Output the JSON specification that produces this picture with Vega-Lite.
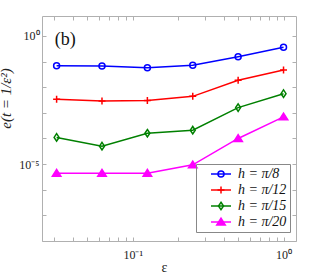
{
  "$schema": "https://vega.github.io/schema/vega-lite/v6.json",
  "width": 254,
  "height": 225,
  "autosize": "none",
  "padding": {"left": 42, "top": 16, "right": 31, "bottom": 32},
  "background": "white",
  "config": {
    "view": {"stroke": null},
    "axis": {
      "grid": false,
      "domainColor": "#b0b0b0",
      "tickColor": "#b0b0b0",
      "tickSize": -4,
      "labelFont": "Liberation Serif",
      "labelFontSize": 12,
      "labelColor": "#222222",
      "titleFont": "Liberation Serif",
      "titleFontWeight": "normal",
      "titleColor": "#222222"
    }
  },
  "data": {
    "values": [
      {"series": "h = π/8", "eps": 0.03125, "err": 0.069},
      {"series": "h = π/8", "eps": 0.0625, "err": 0.067},
      {"series": "h = π/8", "eps": 0.125, "err": 0.058},
      {"series": "h = π/8", "eps": 0.25, "err": 0.072},
      {"series": "h = π/8", "eps": 0.5, "err": 0.155},
      {"series": "h = π/8", "eps": 1, "err": 0.36},
      {"series": "h = π/12", "eps": 0.03125, "err": 0.0034},
      {"series": "h = π/12", "eps": 0.0625, "err": 0.0029},
      {"series": "h = π/12", "eps": 0.125, "err": 0.003},
      {"series": "h = π/12", "eps": 0.25, "err": 0.0044},
      {"series": "h = π/12", "eps": 0.5, "err": 0.0186},
      {"series": "h = π/12", "eps": 1, "err": 0.047},
      {"series": "h = π/15", "eps": 0.03125, "err": 0.00011},
      {"series": "h = π/15", "eps": 0.0625, "err": 0.00005},
      {"series": "h = π/15", "eps": 0.125, "err": 0.00016},
      {"series": "h = π/15", "eps": 0.25, "err": 0.00021},
      {"series": "h = π/15", "eps": 0.5, "err": 0.0016},
      {"series": "h = π/15", "eps": 1, "err": 0.0056},
      {"series": "h = π/20", "eps": 0.03125, "err": 0.0000044},
      {"series": "h = π/20", "eps": 0.0625, "err": 0.0000044},
      {"series": "h = π/20", "eps": 0.125, "err": 0.0000044},
      {"series": "h = π/20", "eps": 0.25, "err": 0.0000094},
      {"series": "h = π/20", "eps": 0.5, "err": 0.0001},
      {"series": "h = π/20", "eps": 1, "err": 0.0007}
    ]
  },
  "resolve": {"axis": {"x": "independent", "y": "independent"}},
  "layer": [
    {
      "mark": {"type": "line", "strokeWidth": 1.5},
      "encoding": {
        "x": {
          "field": "eps", "type": "quantitative",
          "scale": {"type": "log", "domain": [0.025, 1.21], "nice": false},
          "axis": {
            "orient": "bottom",
            "values": [0.03, 0.04, 0.05, 0.06, 0.07, 0.08, 0.09, 0.1, 0.2, 0.3, 0.4, 0.5, 0.6, 0.7, 0.8, 0.9, 1],
            "labelExpr": "datum.value == 0.1 ? '10⁻¹' : (datum.value == 1 ? '10⁰' : '')",
            "labelPadding": 12,
            "labelFlush": false,
            "labelOverlap": false,
            "title": "ε",
            "titleFontSize": 14,
            "titlePadding": 0,
            "titleX": 122
          }
        },
        "y": {
          "field": "err", "type": "quantitative",
          "scale": {"type": "log", "domain": [1e-8, 6], "nice": false},
          "axis": {
            "orient": "left",
            "values": [1e-8, 1e-7, 1e-6, 1e-5, 1e-4, 1e-3, 1e-2, 1e-1, 1],
            "labelExpr": "datum.value == 1 ? '10⁰' : (abs(datum.value - 0.00001) < 1e-9 ? '10⁻⁵' : '')",
            "labelPadding": 7,
            "labelFlush": false,
            "labelOverlap": false,
            "title": "e(t = 1/ε²)",
            "titleFontSize": 15,
            "titleFontStyle": "italic",
            "titleX": -29,
            "titleY": 82,
            "titleAnchor": null
          }
        },
        "color": {
          "field": "series", "type": "nominal", "title": null,
          "scale": {"domain": ["h = π/8", "h = π/12", "h = π/15", "h = π/20", "none"], "range": ["#0000ff", "#ff0000", "#008000", "#ff00ff", "#ffffff"]},
          "legend": {
            "values": ["h = π/8", "h = π/12", "h = π/15", "h = π/20"],
            "orient": "none",
            "legendX": 154,
            "legendY": 148,
            "padding": 3,
            "symbolType": "M-2,0L2,0",
            "symbolSize": 100,
            "symbolStrokeWidth": 1.5,
            "symbolOffset": 15,
            "labelOffset": 10,
            "rowPadding": 2,
            "labelFont": "Liberation Serif",
            "labelFontStyle": "italic",
            "labelFontSize": 14,
            "labelOpacity": 0,
            "labelExpr": "datum.label + ' '"
          }
        }
      }
    },
    {
      "mark": {"type": "point", "opacity": 0},
      "encoding": {
        "x": {
          "field": "eps", "type": "quantitative",
          "axis": {"orient": "top", "values": [0.03, 0.04, 0.05, 0.06, 0.07, 0.08, 0.09, 0.1, 0.2, 0.3, 0.4, 0.5, 0.6, 0.7, 0.8, 0.9, 1], "labels": false, "title": null}
        },
        "y": {
          "field": "err", "type": "quantitative",
          "axis": {"orient": "right", "values": [1e-8, 1e-7, 1e-6, 1e-5, 1e-4, 1e-3, 1e-2, 1e-1, 1], "labels": false, "title": null}
        }
      }
    },
    {
      "mark": {"type": "point", "strokeWidth": 1.5, "size": 100, "opacity": 1},
      "encoding": {
        "x": {"field": "eps", "type": "quantitative", "axis": null},
        "y": {"field": "err", "type": "quantitative", "axis": null},
        "stroke": {
          "field": "series", "type": "nominal", "title": null,
          "scale": {"domain": ["h = π/8", "h = π/12", "h = π/15", "h = π/20"], "range": ["#0000ff", "#ff0000", "#008000", "#ff00ff"]},
          "legend": {
            "orient": "none",
            "legendX": 154,
            "legendY": 148,
            "padding": 3,
            "strokeColor": "#888888",
            "symbolSize": 100,
            "symbolStrokeWidth": 1.5,
            "symbolOffset": 15,
            "labelOffset": 10,
            "rowPadding": 2,
            "labelFont": "Liberation Serif",
            "labelFontStyle": "italic",
            "labelFontSize": 14,
            "labelColor": "#111111",
            "labelExpr": "datum.label + ' '"
          }
        },
        "fill": {
          "field": "series", "type": "nominal", "title": null,
          "scale": {"domain": ["h = π/8", "h = π/12", "h = π/15", "h = π/20"], "range": ["transparent", "transparent", "transparent", "#ff00ff"]}
        },
        "shape": {
          "field": "series", "type": "nominal", "title": null,
          "scale": {"domain": ["h = π/8", "h = π/12", "h = π/15", "h = π/20"], "range": ["M0.6,0A0.6,0.6,0,1,1,-0.6,0A0.6,0.6,0,1,1,0.6,0", "M-0.7,0L0.7,0M0,-0.7L0,0.7", "M0,-0.75L0.5,0L0,0.75L-0.5,0Z", "M0,-0.75L0.85,0.6L-0.85,0.6Z"]}
        }
      }
    },
    {
      "data": {"values": [{"label": "(b)"}]},
      "mark": {"type": "text", "font": "Liberation Serif", "fontSize": 18, "fontWeight": "normal", "align": "center", "baseline": "middle", "color": "#111111"},
      "encoding": {
        "x": {"datum": 0.0356, "type": "quantitative", "axis": null},
        "y": {"datum": 0.7, "type": "quantitative", "axis": null},
        "text": {"field": "label", "type": "nominal"}
      }
    }
  ]
}
